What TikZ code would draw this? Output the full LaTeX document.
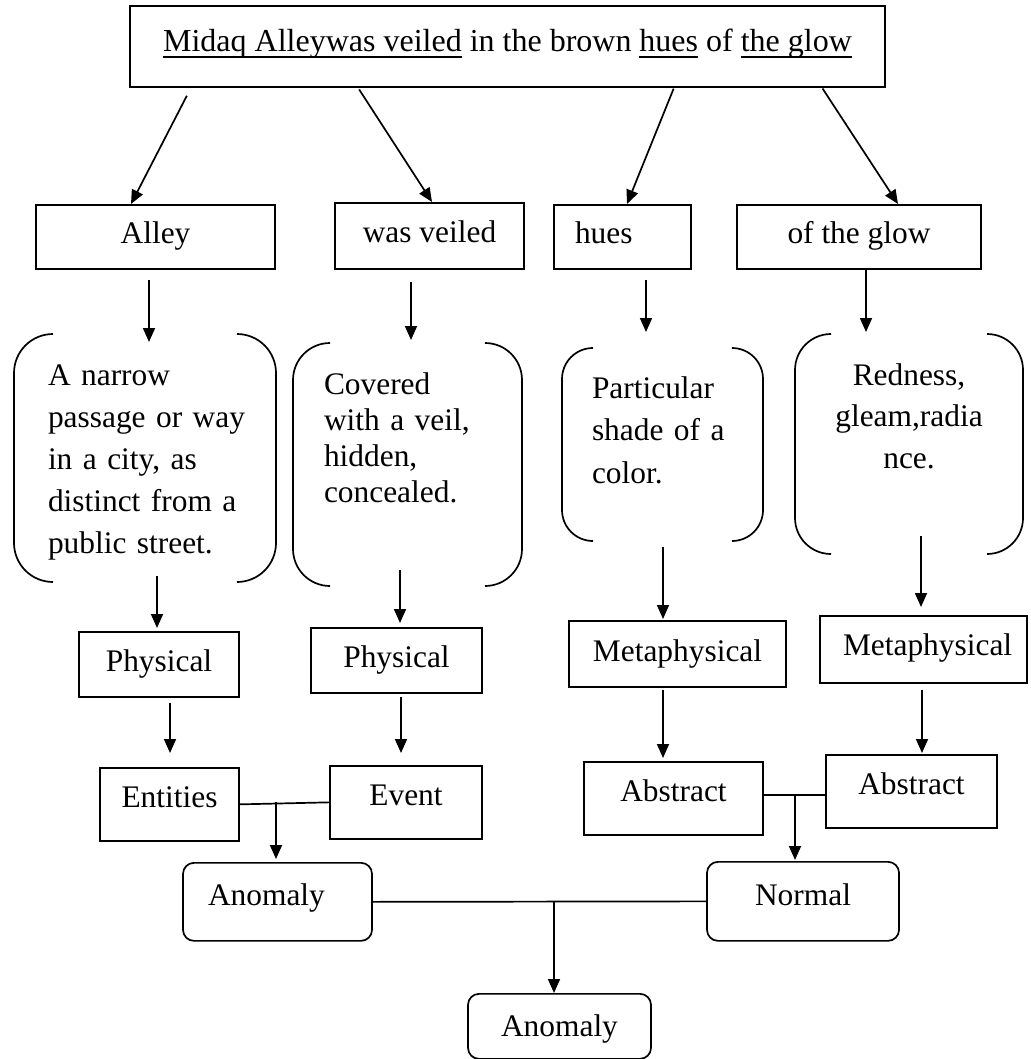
\documentclass[tikz,border=0pt]{standalone}
\usepackage{fontspec}
\setmainfont{Liberation Serif}
\usetikzlibrary{arrows.meta}

% underline at a fixed depth below the baseline
\newcommand\wul[1]{\setbox0\hbox{#1}\rlap{\rule[-6.4pt]{\wd0}{1.8pt}}\box0\relax}

% two round brackets drawn on the left and right sides of a node
\newcommand\bracketpair[2]{%
  \draw[rounded corners=#2] ([xshift=#2]#1.north west) -- (#1.north west)
        -- (#1.south west) -- ([xshift=#2]#1.south west);
  \draw[rounded corners=#2] ([xshift=-#2]#1.north east) -- (#1.north east)
        -- (#1.south east) -- ([xshift=-#2]#1.south east);}

\tikzset{
  box/.style={draw, rectangle, inner sep=0pt, anchor=north},
  rbox/.style={box, rounded corners=11pt},
  bracketed/.style={inner ysep=0pt, outer sep=0pt, anchor=north west},
  arr/.style={-{Triangle[length=14pt,width=12pt]}},
}

\begin{document}
\begin{tikzpicture}[x=1pt, y=-1pt, line width=1.7pt,
    font=\fontsize{31.4}{38}\selectfont]
\useasboundingbox (0,0) rectangle (1030,1059);

% heading sentence
\node[box, minimum width=755pt, text height=46pt, text depth=35pt,
      font=\fontsize{32}{38}\selectfont] (top) at (507.5,5)
  {\wul{Midaq Alleywas veiled} in the brown \wul{hues} of \wul{the glow}};

% the four words
\node[box, minimum width=239pt, text height=39pt, text depth=25pt] (alley) at (155.5,204) {Alley};
\node[box, minimum width=189pt, text height=40pt, text depth=26pt] (veiled) at (429.5,202) {was veiled};
\node[box, text width=95pt, inner xsep=21pt, align=left, text height=39pt, text depth=25pt] (hues) at (622.5,204) {hues};
\node[box, minimum width=244pt, text height=39pt, text depth=25pt] (glow) at (859,204) {of the glow};

% meanings
\node[bracketed, text width=194pt, inner xsep=34pt, align=left, text height=51pt, text depth=197pt,
      font=\fontsize{31.4}{42.2}\selectfont] (b1) at (14,334)
  {\mbox{A narrow}\\ \mbox{passage or way}\\ \mbox{in a city, as}\\ \mbox{distinct from a}\\ \mbox{public street.}};
\node[bracketed, text width=167pt, inner xsep=31pt, align=left, text height=51pt, text depth=192pt,
      font=\fontsize{31.4}{36.3}\selectfont] (b2) at (293,343)
  {\mbox{Covered}\\ \mbox{with a veil,}\\ \mbox{hidden,}\\ \mbox{concealed.}};
\node[bracketed, text width=141pt, inner xsep=30pt, align=left, text height=50pt, text depth=143pt,
      font=\fontsize{31.4}{42.5}\selectfont] (b3) at (562,348)
  {\mbox{Particular}\\ \mbox{shade of a}\\ \mbox{color.}};
\node[bracketed, text width=160pt, inner xsep=34pt, align=center, text height=51pt, text depth=169pt,
      font=\fontsize{31.4}{41.5}\selectfont] (b4) at (795,334)
  {\mbox{Redness,}\\ \mbox{gleam,radia}\\ \mbox{nce.}};
\bracketpair{b1}{39pt}
\bracketpair{b2}{37pt}
\bracketpair{b3}{31pt}
\bracketpair{b4}{36pt}

% domains
\node[box, minimum width=160pt, text height=40pt, text depth=25pt] (phys1) at (159,631) {Physical};
\node[box, minimum width=171pt, text height=40pt, text depth=25pt] (phys2) at (396.5,627) {Physical};
\node[box, minimum width=217pt, text height=41pt, text depth=25pt] (meta1) at (677.5,620) {Metaphysical};
\node[box, text width=161pt, inner xsep=23pt, align=left, text height=40pt, text depth=27pt] (meta2) at (923.5,615) {\mbox{Metaphysical}};

% categories
\node[box, minimum width=139pt, text height=40pt, text depth=33pt] (entities) at (169.5,767) {Entities};
\node[box, minimum width=152pt, text height=40pt, text depth=33pt] (event) at (406,765) {Event};
\node[box, minimum width=179pt, text height=40pt, text depth=33pt] (abs1) at (673.5,761) {Abstract};
\node[box, minimum width=171pt, text height=40pt, text depth=33pt] (abs2) at (911.5,754) {Abstract};

% results
\node[rbox, text width=139pt, inner xsep=25pt, align=left, text height=43pt, text depth=35pt] (anom1) at (277.5,862) {Anomaly};
\node[rbox, minimum width=192pt, text height=44pt, text depth=35pt] (normal) at (803,861) {Normal};
\node[rbox, minimum width=183pt, text height=43pt, text depth=22pt] (anom3) at (559.5,993) {Anomaly};

% heading to words
\draw[arr, shorten <=9pt] ([xshift=-316.5pt]top.south) -- ([xshift=-24.5pt]alley.north);
\draw[arr, shorten <=2pt] ([xshift=-149.5pt]top.south) -- ([xshift=2.5pt]veiled.north);
\draw[arr, shorten <=1pt] ([xshift=166.5pt]top.south) -- ([xshift=4.5pt]hues.north);
\draw[arr, shorten <=1pt] ([xshift=314.5pt]top.south) -- ([xshift=39pt]glow.north);

% words to meanings
\draw[arr, shorten <=10pt, shorten >=-8pt] ([xshift=-6.5pt]alley.south) -- ([xshift=4pt]b1.north);
\draw[arr, shorten <=12pt, shorten >=3pt] ([xshift=-18.5pt]veiled.south) -- ([xshift=3.5pt]b2.north);
\draw[arr, shorten <=10pt, shorten >=16pt] ([xshift=23.5pt]hues.south) -- ([xshift=-16.5pt]b3.north);
\draw[arr, shorten >=2pt] ([xshift=7pt]glow.south) -- ([xshift=-43pt]b4.north);

% meanings to domains
\draw[arr, shorten <=-6pt, shorten >=3pt] ([xshift=12pt]b1.south) -- ([xshift=-2pt]phys1.north);
\draw[arr, shorten <=-16pt, shorten >=4pt] ([xshift=-7.5pt]b2.south) -- ([xshift=3.5pt]phys2.north);
\draw[arr, shorten <=6pt, shorten >=1pt] ([xshift=0.5pt]b3.south) -- ([xshift=-14.5pt]meta1.north);
\draw[arr, shorten <=-18pt, shorten >=8pt] ([xshift=12pt]b4.south) -- ([xshift=-2.5pt]meta2.north);

% domains to categories
\draw[arr, shorten <=5pt, shorten >=14pt] ([xshift=11pt]phys1.south) -- ([xshift=0.5pt]entities.north);
\draw[arr, shorten <=3pt, shorten >=12pt] ([xshift=4.5pt]phys2.south) -- ([xshift=-5pt]event.north);
\draw[arr, shorten <=2pt, shorten >=3pt] ([xshift=-14.5pt]meta1.south) -- ([xshift=-10.5pt]abs1.north);
\draw[arr, shorten <=6pt, shorten >=1pt] ([xshift=-1.5pt]meta2.south) -- ([xshift=10.5pt]abs2.north);

% categories to results
\coordinate (j1) at (276,802);
\coordinate (j2) at (795,795);
\draw (entities.east) -- (event.west);
\draw[arr, shorten >=3pt] (j1) -- (anom1.north -| j1);
\draw (abs1.east |- j2) -- (abs2.west |- j2);
\draw[arr, shorten >=1pt] (j2) -- (normal.north -| j2);

% results to the final verdict
\coordinate (j3) at (554,901);
\draw (anom1.east) -- (normal.west);
\draw[arr] (j3) -- (anom3.north -| j3);
\end{tikzpicture}
\end{document}
